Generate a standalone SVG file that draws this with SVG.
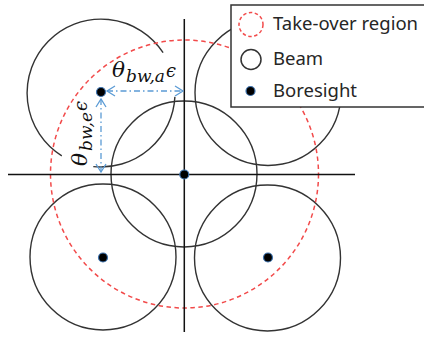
<svg xmlns="http://www.w3.org/2000/svg" width="424" height="337" viewBox="0 0 424 337">
<style>
.beam{fill:none;stroke:#333;stroke-width:1.4}
.takeover{fill:none;stroke:#f24a4a;stroke-width:1.5;stroke-dasharray:4.5 3.5}
.axis{stroke:#111;stroke-width:1.5;fill:none}
.dot{fill:#000;stroke:#3f74b0;stroke-width:1.2}
.dim{stroke:#5b9bd5;stroke-width:1.3;fill:none;stroke-dasharray:6 3 1.5 3}
.head{stroke:#5b9bd5;stroke-width:1.3;fill:none}
.math{font-family:"DejaVu Serif","Liberation Serif",serif;font-style:italic;fill:#111}
.leg{font-family:"Noto Sans","Liberation Sans",sans-serif;font-size:18.5px;fill:#262626}
</style>
<rect width="424" height="337" fill="#fff"/>
<g id="beams">
  <g id="beam-topleft">
    <path class="beam" d="M163.1,52.7 A74,74 0 1 0 61.8,155.8"/>
    <path class="beam" d="M174.9,96.9 A74,74 0 0 1 93.3,166.6"/>
  </g>
  <circle id="beam-topright" class="beam" cx="268" cy="92.5" r="73"/>
  <circle id="beam-center" class="beam" cx="184" cy="174" r="73"/>
  <circle id="beam-bottomleft" class="beam" cx="103" cy="257" r="73"/>
  <circle id="beam-bottomright" class="beam" cx="267.5" cy="258" r="73"/>
</g>
<g id="takeover-region">
  <circle class="takeover" cx="184.5" cy="174" r="134"/>
</g>
<g id="axes">
  <line class="axis" x1="8" y1="174.5" x2="355" y2="174.5"/>
  <line class="axis" x1="184.3" y1="19" x2="184.3" y2="332"/>
</g>
<g id="boresights">
  <circle class="dot" cx="101" cy="92" r="4.5"/>
  <circle class="dot" cx="184.3" cy="174.5" r="4.5"/>
  <circle class="dot" cx="103" cy="257.5" r="4.5"/>
  <circle class="dot" cx="268" cy="257.5" r="4.5"/>
</g>
<g id="connectors">
  <line class="dim" x1="107" y1="91" x2="183" y2="91"/>
  <path class="head" d="M115,86 L107,91 L115,96"/>
  <path class="head" d="M175,86 L183,91 L175,96"/>
  <line class="dim" x1="101" y1="99" x2="101" y2="172"/>
  <path class="head" d="M96,107 L101,99 L106,107"/>
  <path class="head" d="M96,164 L101,172 L106,164"/>
</g>
<g id="label-azimuth">
  <text class="math" x="112" y="77" font-size="20" textLength="13" lengthAdjust="spacingAndGlyphs">θ</text>
  <text class="math" x="126" y="82" font-size="17" textLength="39" lengthAdjust="spacingAndGlyphs">bw,a</text>
  <text class="math" x="166" y="76.5" font-size="19" textLength="10" lengthAdjust="spacingAndGlyphs">ϵ</text>
</g>
<g id="label-elevation" transform="translate(87,166) rotate(-90)">
  <text class="math" x="0" y="0" font-size="20" textLength="13" lengthAdjust="spacingAndGlyphs">θ</text>
  <text class="math" x="15" y="5" font-size="17" textLength="39" lengthAdjust="spacingAndGlyphs">bw,e</text>
  <text class="math" x="55" y="-0.5" font-size="19" textLength="10" lengthAdjust="spacingAndGlyphs">ϵ</text>
</g>
<g id="legend">
  <rect x="231" y="5" width="200" height="102" fill="#fff" stroke="#333" stroke-width="1.5"/>
  <circle class="takeover" cx="251" cy="24.5" r="12" style="stroke-dasharray:3.5 2.5"/>
  <text class="leg" x="273" y="30">Take-over region</text>
  <circle class="beam" cx="251" cy="59.5" r="10" style="stroke-width:1.5"/>
  <text class="leg" x="273" y="65">Beam</text>
  <circle class="dot" cx="250.5" cy="91" r="4.5"/>
  <text class="leg" x="273" y="97">Boresight</text>
</g>
</svg>
